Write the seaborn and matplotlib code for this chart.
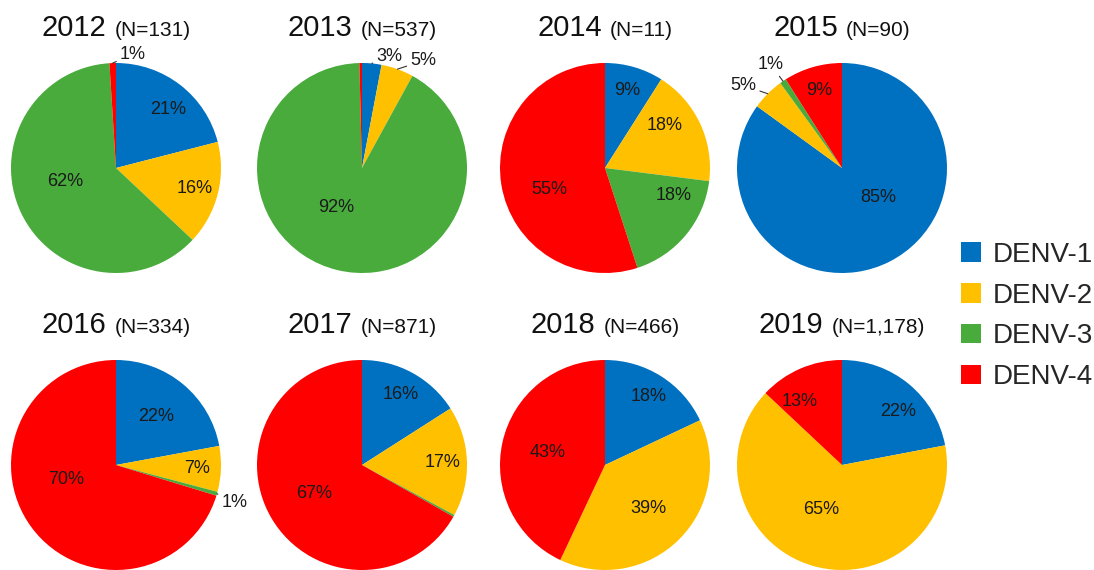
import numpy as np
import pandas as pd
import seaborn as sns
import matplotlib
matplotlib.use("Agg")
import matplotlib.pyplot as plt
from matplotlib.patches import Patch
from matplotlib.offsetbox import TextArea, HPacker, AnnotationBbox

# data: serotype share (%) per year
years = [2012, 2013, 2014, 2015, 2016, 2017, 2018, 2019]
n_labels = ["131", "537", "11", "90", "334", "871", "466", "1,178"]
serotypes = ["DENV-1", "DENV-2", "DENV-3", "DENV-4"]
denv1 = [21, 3, 9, 85, 22, 16, 18, 22]
denv2 = [16, 5, 18, 5, 7, 17, 39, 65]
denv3 = [62, 92, 18, 1, 0.6, 0.3, 0, 0]
denv4 = [1, 0.4, 55, 9, 70, 67, 43, 13]

colors = sns.color_palette(["#0070C0", "#FFC000", "#48AB3C", "#FF0000"])

df = pd.DataFrame({"year": years, "n": n_labels, "DENV-1": denv1,
                   "DENV-2": denv2, "DENV-3": denv3, "DENV-4": denv4})

sns.set_theme(style="white")
plt.rcParams["font.family"] = ["Liberation Sans", "DejaVu Sans"]

W, H = 1094, 570
R = 105
col_x = [116, 362, 605, 842]
row_y = [168, 465]

# label placement tweaks (radial distance, angle shift in degrees), mimics excel "best fit"
label_nudge = {
    (2012, 0): (0.75, -4), (2012, 2): (0.5, -10),
    (2013, 2): (0.45, -19),
    (2014, 1): (0.7, 10), (2014, 2): (0.7, 18), (2014, 3): (0.57, 12),
    (2015, 0): (0.45, 24),
    (2016, 0): (0.6, 0), (2016, 3): (0.5, -20),
    (2018, 1): (0.59, 0), (2018, 3): (0.56, 0),
    (2019, 0): (0.74, -7), (2019, 1): (0.47, -9), (2019, 3): (0.73, 10),
}
# small slices labelled outside: offset in points from the rim, ha
outside = {
    (2012, 3): ((5, 6), "left"),
    (2013, 0): ((3, 5), "left"),
    (2013, 1): ((9, 6), "left"),
    (2015, 1): ((-8, 6), "right"),
    (2015, 2): ((0.5, 12), "right"),
    (2016, 2): ((3, -6.5), "left"),
}

fig = plt.figure(figsize=(W / 100, H / 100), dpi=100)

for i, row in df.iterrows():
    cx = col_x[i % 4]
    cy = row_y[i // 4]
    ax = fig.add_axes([(cx - R) / W, (H - cy - R) / H, 2 * R / W, 2 * R / H])
    vals = [row[s] for s in serotypes]
    wedges, _ = ax.pie(vals, colors=colors, startangle=90, counterclock=False,
                       radius=1, wedgeprops=dict(linewidth=0))
    ax.set_xlim(-1, 1)
    ax.set_ylim(-1, 1)
    ax.set_axis_off()

    for k, (w, v) in enumerate(zip(wedges, vals)):
        if v < 0.5:
            continue
        key = (row["year"], k)
        label = f"{round(v)}%"
        mid_deg = (w.theta1 + w.theta2) / 2
        if key in outside:
            mid = np.deg2rad(mid_deg)
            off, ha = outside[key]
            ax.annotate(label, xy=(np.cos(mid), np.sin(mid)), xytext=off,
                        textcoords="offset points", ha=ha, va="center",
                        fontsize=13, color="#1a1a1a", annotation_clip=False,
                        arrowprops=dict(arrowstyle="-", lw=0.8, color="#333333",
                                        shrinkA=0, shrinkB=0))
        else:
            d, shift = label_nudge.get(key, (0.77 if v < 30 else 0.53, 0))
            ang = np.deg2rad(mid_deg + shift)
            ax.text(d * np.cos(ang), d * np.sin(ang), label, ha="center",
                    va="center", fontsize=13, color="#1a1a1a")

    title = HPacker(children=[
        TextArea(str(row["year"]), textprops=dict(fontsize=21, color="#111111")),
        TextArea(f"(N={row['n']})", textprops=dict(fontsize=15, color="#111111")),
    ], align="baseline", pad=0, sep=6)
    ab = AnnotationBbox(title, (0.5, 1.165), xycoords="axes fraction",
                        frameon=False, box_alignment=(0.5, 0.5),
                        annotation_clip=False)
    ax.add_artist(ab)

handles = [Patch(facecolor=c, edgecolor="none", label=s)
           for c, s in zip(colors, serotypes)]
fig.legend(handles=handles, loc="center left",
           bbox_to_anchor=(950 / W, 1 - 316 / H), frameon=False, fontsize=20,
           handlelength=0.7, handleheight=0.7, handletextpad=0.45,
           labelspacing=0.53, borderaxespad=0)

fig.savefig("out.png", dpi=100)
